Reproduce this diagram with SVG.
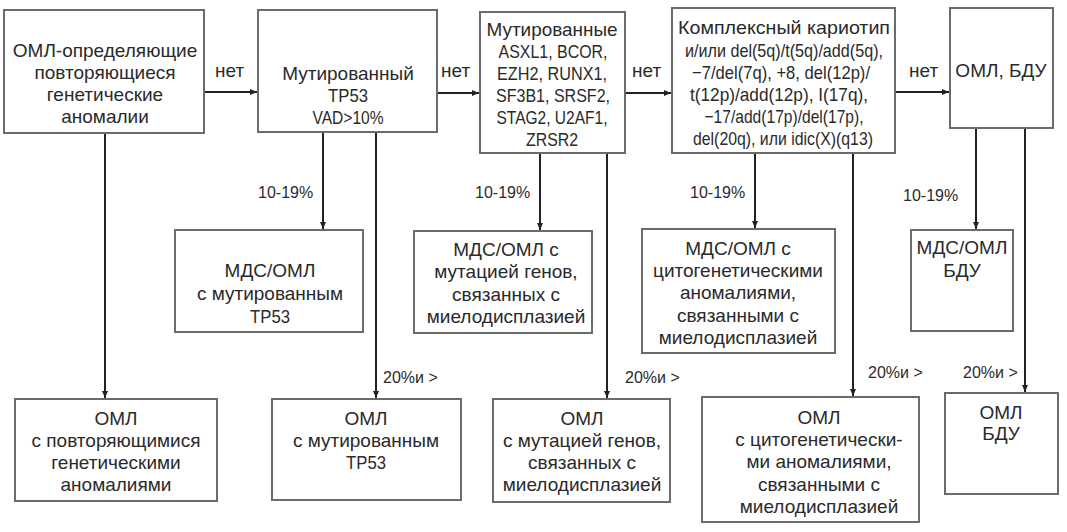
<svg xmlns="http://www.w3.org/2000/svg" width="1067" height="532" viewBox="0 0 1067 532">
<defs>
<marker id="ah" markerWidth="8" markerHeight="8" refX="7" refY="4" orient="auto" markerUnits="userSpaceOnUse">
<path d="M0,1 L7,4 L0,7 Z" fill="#222"/>
</marker>
<style>
.box{fill:#fff;stroke:#6b6b6b;stroke-width:2}
.t{font-family:"Liberation Sans",Arial,sans-serif;font-size:19px;fill:#2a2a2a;text-anchor:middle}
.l{font-family:"Liberation Sans",Arial,sans-serif;font-size:16px;fill:#2a2a2a}
.n{font-family:"Liberation Sans",Arial,sans-serif;font-size:19px;fill:#2a2a2a}
.c{stroke:#222;stroke-width:2;fill:none;marker-end:url(#ah)}
</style>
</defs>
<rect width="1067" height="532" fill="#fff"/>
<g id="connectors">
<path class="c" d="M204,92 H257"/>
<path class="c" d="M437,93 H479"/>
<path class="c" d="M625,93 H671"/>
<path class="c" d="M895,92 H949"/>
<path class="c" d="M105,133 V398"/>
<path class="c" d="M323,132 V229"/>
<path class="c" d="M376,132 V398"/>
<path class="c" d="M540,153 V230"/>
<path class="c" d="M607,153 V398"/>
<path class="c" d="M755,153 V228"/>
<path class="c" d="M853,153 V396"/>
<path class="c" d="M976,128 V229"/>
<path class="c" d="M1025,128 V392"/>
<text class="n" x="215" y="77">нет</text>
<text class="n" x="441" y="77">нет</text>
<text class="n" x="632" y="77">нет</text>
<text class="n" x="909" y="77">нет</text>
<text class="l" x="258" y="198">10-19%</text>
<text class="l" x="475" y="198">10-19%</text>
<text class="l" x="690" y="198">10-19%</text>
<text class="l" x="903" y="201">10-19%</text>
<text class="l" x="383" y="383">20%и &gt;</text>
<text class="l" x="625" y="383">20%и &gt;</text>
<text class="l" x="868" y="378">20%и &gt;</text>
<text class="l" x="963" y="378">20%и &gt;</text>
</g>
<g id="n1"><rect class="box" x="4" y="10" width="200" height="123"/>
<text class="t" x="105"><tspan x="105" y="57">ОМЛ-определяющие</tspan><tspan x="105" y="79">повторяющиеся</tspan><tspan x="105" y="101">генетические</tspan><tspan x="105" y="123">аномалии</tspan></text></g>
<g id="n2"><rect class="box" x="258" y="10" width="179" height="122"/>
<text class="t" x="348" y="80">Мутированный</text>
<text class="t" x="348" y="102" textLength="40" lengthAdjust="spacingAndGlyphs">TP53</text>
<text class="t" x="348" y="124" textLength="71" lengthAdjust="spacingAndGlyphs">VAD&gt;10%</text></g>
<g id="n3"><rect class="box" x="480" y="12" width="145" height="141"/>
<text class="t" x="552" y="36" textLength="131" lengthAdjust="spacingAndGlyphs">Мутированные</text>
<text class="t" x="553" y="58" textLength="109" lengthAdjust="spacingAndGlyphs">ASXL1, BCOR,</text>
<text class="t" x="552" y="80" textLength="110" lengthAdjust="spacingAndGlyphs">EZH2, RUNX1,</text>
<text class="t" x="553" y="102" textLength="114" lengthAdjust="spacingAndGlyphs">SF3B1, SRSF2,</text>
<text class="t" x="552" y="124" textLength="111" lengthAdjust="spacingAndGlyphs">STAG2, U2AF1,</text>
<text class="t" x="552" y="146" textLength="52" lengthAdjust="spacingAndGlyphs">ZRSR2</text></g>
<g id="n4"><rect class="box" x="672" y="8" width="223" height="145"/>
<text class="t" x="784" y="34" textLength="212" lengthAdjust="spacingAndGlyphs">Комплексный кариотип</text>
<text class="t" x="784" y="57" textLength="198" lengthAdjust="spacingAndGlyphs">и/или del(5q)/t(5q)/add(5q),</text>
<text class="t" x="781" y="79" textLength="178" lengthAdjust="spacingAndGlyphs">−7/del(7q), +8, del(12p)/</text>
<text class="t" x="779" y="101" textLength="178" lengthAdjust="spacingAndGlyphs">t(12p)/add(12p), I(17q),</text>
<text class="t" x="784" y="123" textLength="159" lengthAdjust="spacingAndGlyphs">−17/add(17p)/del(17p),</text>
<text class="t" x="783" y="145" textLength="180" lengthAdjust="spacingAndGlyphs">del(20q), или idic(X)(q13)</text></g>
<g id="n5"><rect class="box" x="950" y="8" width="103" height="120"/>
<text class="t" x="1001" y="77">ОМЛ, БДУ</text></g>
<g id="m1"><rect class="box" x="175" y="230" width="188" height="102"/>
<text class="t"><tspan x="270" y="277">МДС/ОМЛ</tspan><tspan x="270" y="300">с мутированным</tspan></text>
<text class="t" x="270" y="323" textLength="40" lengthAdjust="spacingAndGlyphs">TP53</text></g>
<g id="m2"><rect class="box" x="414" y="231" width="178" height="102"/>
<text class="t"><tspan x="506" y="256">МДС/ОМЛ с</tspan><tspan x="506" y="278">мутацией генов,</tspan><tspan x="506" y="301">связанных с</tspan><tspan x="506" y="323">миелодисплазией</tspan></text></g>
<g id="m3"><rect class="box" x="642" y="229" width="193" height="124"/>
<text class="t"><tspan x="738" y="255">МДС/ОМЛ с</tspan><tspan x="738" y="277">цитогенетическими</tspan><tspan x="738" y="299">аномалиями,</tspan><tspan x="738" y="322">связанными с</tspan><tspan x="738" y="344">миелодисплазией</tspan></text></g>
<g id="m4"><rect class="box" x="911" y="230" width="102" height="101"/>
<text class="t"><tspan x="962" y="254">МДС/ОМЛ</tspan><tspan x="962" y="277">БДУ</tspan></text></g>
<g id="b1"><rect class="box" x="15" y="399" width="202" height="102"/>
<text class="t"><tspan x="116" y="425">ОМЛ</tspan><tspan x="116" y="447">с повторяющимися</tspan><tspan x="116" y="469">генетическими</tspan><tspan x="116" y="491">аномалиями</tspan></text></g>
<g id="b2"><rect class="box" x="272" y="399" width="189" height="101"/>
<text class="t"><tspan x="366" y="425">ОМЛ</tspan><tspan x="366" y="447">с мутированным</tspan></text>
<text class="t" x="366" y="469" textLength="40" lengthAdjust="spacingAndGlyphs">TP53</text></g>
<g id="b3"><rect class="box" x="493" y="399" width="177" height="103"/>
<text class="t"><tspan x="582" y="425">ОМЛ</tspan><tspan x="582" y="447">с мутацией генов,</tspan><tspan x="582" y="469">связанных с</tspan><tspan x="582" y="491">миелодисплазией</tspan></text></g>
<g id="b4"><rect class="box" x="702" y="397" width="217" height="125"/>
<text class="t"><tspan x="819" y="424">ОМЛ</tspan><tspan x="819" y="446">с цитогенетически-</tspan><tspan x="819" y="468">ми аномалиями,</tspan><tspan x="819" y="491">связанными с</tspan><tspan x="819" y="513">миелодисплазией</tspan></text></g>
<g id="b5"><rect class="box" x="945" y="393" width="113" height="101"/>
<text class="t"><tspan x="1001" y="419">ОМЛ</tspan><tspan x="1001" y="440">БДУ</tspan></text></g>
</svg>
